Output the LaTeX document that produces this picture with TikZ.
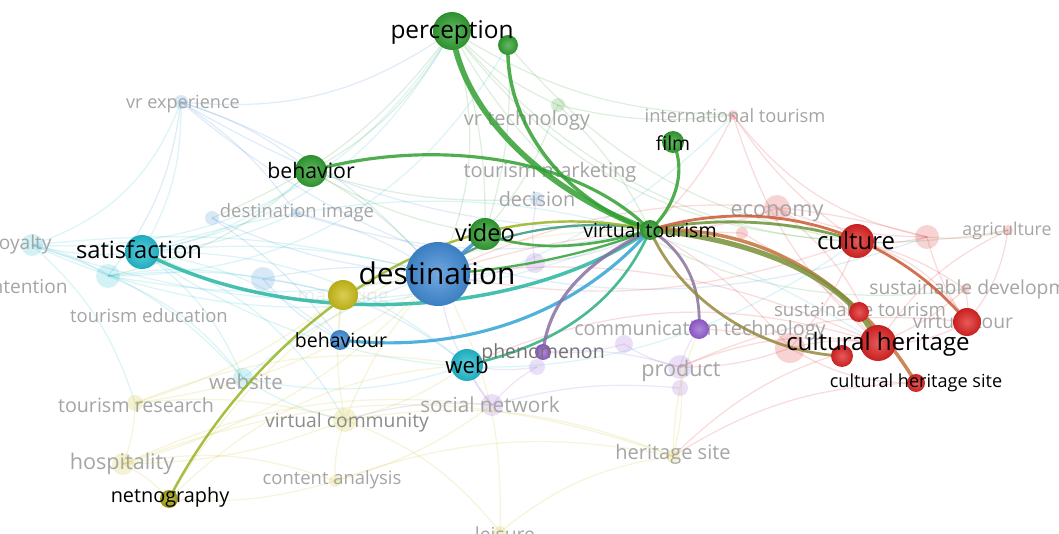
\documentclass[tikz,border=0pt]{standalone}
\usepackage{fontspec}
\setmainfont{Open Sans}
\definecolor{vgreen}{RGB}{50,160,50}
\definecolor{vred}{RGB}{222,35,35}
\definecolor{vblue}{RGB}{65,140,215}
\definecolor{vcyan}{RGB}{35,190,210}
\definecolor{vyellow}{RGB}{205,190,25}
\definecolor{vpurple}{RGB}{150,95,210}
\definecolor{volive}{RGB}{170,165,25}
\definecolor{paletext}{RGB}{165,165,165}
\pgfdeclarelayer{faint}
\pgfdeclarelayer{links}
\pgfsetlayers{faint,links,main}
\tikzset{
  ball/.style={circle, inner sep=0pt, inner color=#1!75!white, outer color=#1!90!black},
  fball/.style={circle, inner sep=0pt, fill=#1, fill opacity=0.2},
  sz/.style={minimum size=#1*0.04cm},
  word/.style={inner sep=0pt, text=black, font=\fontsize{#1pt}{#1pt}\selectfont},
  pale/.style={inner sep=0pt, text=paletext, font=\fontsize{#1pt}{#1pt}\selectfont},
  tie/.style={draw=#1, line cap=round, opacity=0.85},
  thread/.style={draw=#1, opacity=0.16, line width=0.7pt}
}
\begin{document}
\begin{tikzpicture}[x=0.02cm, y=-0.02cm]
\useasboundingbox (0,0) rectangle (1059,534);

\node[ball=vgreen, sz=19] (perception) at (452,31) {};
\node[ball=vgreen, sz=10] (perc2) at (508,45) {};
\node[ball=vgreen, sz=11] (film) at (673,142) {};
\node[ball=vgreen, sz=16] (behavior) at (311,171) {};
\node[ball=vgreen, sz=16] (video) at (485,234) {};
\node[ball=vgreen, sz=10] (vt) at (650,230) {};
\node[ball=vblue, sz=32] (destination) at (438,274) {};
\node[ball=vcyan, sz=17] (satisfaction) at (142,252) {};
\node[ball=vyellow, sz=15] (marketing) at (343,295) {};
\node[ball=vblue, sz=10] (behaviour) at (340,340) {};
\node[ball=vcyan, sz=16] (web) at (467,365) {};
\node[ball=vpurple, sz=8] (phenomenon) at (543,352) {};
\node[ball=vpurple, sz=10] (commtech) at (699,329) {};
\node[ball=vred, sz=17] (culture) at (857,241) {};
\node[ball=vred, sz=18] (heritage) at (878,343) {};
\node[ball=vred, sz=14] (vtour) at (967,322) {};
\node[ball=vred, sz=10] (sustour) at (859,312) {};
\node[ball=vred, sz=11] (redsmall) at (842,356) {};
\node[ball=vred, sz=9] (chsite) at (916,383) {};
\node[ball=volive, sz=9] (netnography) at (169,499) {};

\node[word=17] (t-destination) at (437,273) {destination};
\node[word=13.9] (t-perception) at (452,32) {perception};
\node[word=13.5] (t-satisfaction) at (139,250) {satisfaction};
\node[word=13.4] (t-video) at (485,233) {video};
\node[word=12.1] (t-behavior) at (311,171) {behavior};
\node[word=11.1] (t-vt) at (650,230) {virtual tourism};
\node[word=11] (t-film) at (673,143) {film};
\node[word=11.1] (t-behaviour) at (341,340) {behaviour};
\node[word=12.6] (t-web) at (467,365) {web};
\node[word=11.1, text=black!55] (t-phenomenon) at (543,353) {phenomenon};
\node[word=13.6] (t-culture) at (856,241) {culture};
\node[word=13.7] (t-heritage) at (878,344) {cultural heritage};
\node[word=10.3] (t-chsite) at (916,383) {cultural heritage site};
\node[word=11.3] (t-netnography) at (170,497) {netnography};

\begin{pgfonlayer}{faint}
\fill[white] (0,0) rectangle (1059,534);
\node[fball=vblue, sz=7] (fvrexp) at (181,102) {};
\node[fball=vgreen, sz=7] (fvrtech) at (558,105) {};
\node[fball=vred, sz=5] (finttour) at (733,115) {};
\node[fball=vblue, sz=7] (fdecision) at (537,199) {};
\node[fball=vblue, sz=5] (fdestimg) at (296,213) {};
\node[fball=vblue, sz=7] (fdestimg2) at (212,218) {};
\node[fball=vcyan, sz=11] (floyalty) at (32,245) {};
\node[fball=vcyan, sz=12] (fintention) at (108,276) {};
\node[fball=vblue, sz=12] (fblue) at (263,279) {};
\node[fball=vred, sz=13] (feconomy) at (777,208) {};
\node[fball=vred, sz=6] (fecon2) at (742,233) {};
\node[fball=vred, sz=12] (fagri) at (927,237) {};
\node[fball=vred, sz=5] (fagri2) at (1008,230) {};
\node[fball=vred, sz=5] (fsusdev) at (965,289) {};
\node[fball=vred, sz=15] (fredbig) at (790,348) {};
\node[fball=vpurple, sz=10] (fpurple) at (535,263) {};
\node[fball=vpurple, sz=9] (fpurple2) at (624,344) {};
\node[fball=vpurple, sz=12] (fproduct) at (680,367) {};
\node[fball=vpurple, sz=8] (fproduct2) at (680,388) {};
\node[fball=vpurple, sz=8] (fphen) at (537,367) {};
\node[fball=vpurple, sz=11] (fsocial) at (492,405) {};
\node[fball=vcyan, sz=10] (fwebsite) at (243,378) {};
\node[fball=vyellow, sz=8] (ftres) at (135,403) {};
\node[fball=vyellow, sz=11] (fhosp) at (123,464) {};
\node[fball=vyellow, sz=12] (fvcomm) at (345,420) {};
\node[fball=vyellow, sz=6] (fcontent) at (335,481) {};
\node[fball=vyellow, sz=7] (fherit) at (673,456) {};
\node[fball=vyellow, sz=6] (fleisure) at (500,532) {};

\foreach \a/\b/\c/\d in {floyalty/fintention/vcyan/10, floyalty/satisfaction/vcyan/-10,
  floyalty/fvrexp/vcyan/-25, floyalty/perception/vcyan/-30, floyalty/vt/vcyan/-20,
  floyalty/destination/vcyan/10, floyalty/finttour/vcyan/-35, floyalty/fwebsite/vcyan/15,
  floyalty/ftres/vcyan/15, fintention/fblue/vcyan/10, fintention/destination/vcyan/-10,
  fintention/fwebsite/vcyan/15, fintention/perc2/vcyan/-30, fintention/marketing/vcyan/10,
  satisfaction/fvrexp/vcyan/-15, satisfaction/fdestimg/vcyan/-10, satisfaction/culture/vcyan/-35,
  satisfaction/destination/vcyan/10, satisfaction/fwebsite/vcyan/15, satisfaction/perception/vcyan/-25,
  satisfaction/behavior/vcyan/-15, satisfaction/web/vcyan/20, satisfaction/heritage/vcyan/25,
  satisfaction/behaviour/vcyan/15, satisfaction/fvcomm/vcyan/20,
  fvrexp/behavior/vblue/10, fvrexp/destination/vblue/15, fvrexp/perception/vblue/-20,
  fvrexp/fdestimg/vblue/10, fvrexp/fagri/vblue/-30, fvrexp/vt/vblue/-15, fvrexp/fintention/vblue/15,
  fdestimg2/destination/vblue/-10, fdestimg/destination/vblue/10, fdestimg2/behaviour/vblue/10,
  fdestimg/vt/vblue/-15, fblue/destination/vblue/10, fblue/behaviour/vblue/-10, fblue/web/vblue/15,
  behavior/destination/vgreen/10, behavior/perception/vgreen/-15, behavior/fdecision/vgreen/-10,
  behavior/video/vgreen/-10, behavior/fintention/vgreen/15,
  perception/destination/vgreen/20, perception/video/vgreen/10, perception/culture/vgreen/-25,
  perception/finttour/vgreen/-15, perception/fvrtech/vgreen/-10, perc2/culture/vgreen/-20,
  perception/fagri2/vgreen/-30, perception/fsusdev/vgreen/-35, perception/fdestimg2/vgreen/15,
  fvrtech/vt/vgreen/10, fvrtech/destination/vgreen/15, perc2/video/vgreen/10,
  fvrtech/finttour/vgreen/-10, finttour/culture/vred/-10, finttour/vt/vred/10,
  finttour/heritage/vred/-15, finttour/fagri/vred/-20, feconomy/culture/vred/-10,
  feconomy/heritage/vred/15, feconomy/vt/vred/10, feconomy/fagri/vred/-10,
  fecon2/heritage/vred/10, fecon2/destination/vred/-10, fagri/culture/vred/10,
  fagri/vtour/vred/-10, fagri2/fagri/vred/10, fagri2/heritage/vred/-15, fsusdev/heritage/vred/10,
  fsusdev/culture/vred/-10, fsusdev/vtour/vred/10, fredbig/heritage/vred/10,
  fredbig/commtech/vred/-10, fredbig/fproduct/vred/10, fredbig/vt/vred/-10,
  vtour/heritage/vred/15, chsite/fredbig/vred/15, heritage/fproduct/vred/-15,
  heritage/destination/vred/-15, heritage/fherit/vred/-15, culture/destination/vred/15,
  fagri/destination/vred/-20, vtour/fproduct/vred/-15, fagri2/vtour/vred/15, chsite/fherit/vred/-15,
  culture/fredbig/vred/10, heritage/web/vred/-20, vtour/culture/vred/-20,
  fpurple/destination/vpurple/10, fpurple/vt/vpurple/-10,
  fpurple/fdecision/vpurple/10, fpurple2/phenomenon/vpurple/10, fpurple2/fproduct/vpurple/-10,
  fproduct/commtech/vpurple/10, fproduct/phenomenon/vpurple/-10, fproduct2/fsocial/vpurple/-10,
  fphen/web/vpurple/10, fphen/fsocial/vpurple/-10, fsocial/web/vpurple/10,
  fsocial/fvcomm/vpurple/-10, fsocial/destination/vpurple/15, fwebsite/destination/vcyan/10,
  fwebsite/fvcomm/vcyan/-10, fwebsite/web/vcyan/-15, ftres/fhosp/vyellow/10,
  ftres/marketing/vyellow/-10, ftres/fvcomm/vyellow/10, ftres/destination/vyellow/-15,
  fhosp/fvcomm/vyellow/-10, fhosp/netnography/vyellow/10, fhosp/fcontent/vyellow/15,
  fhosp/destination/vyellow/-15, fhosp/fherit/vyellow/20, fvcomm/marketing/vyellow/10,
  fvcomm/fcontent/vyellow/-10, fvcomm/destination/vyellow/10, fvcomm/fherit/vyellow/15,
  fvcomm/web/vyellow/-10, fcontent/netnography/vyellow/10, fcontent/fherit/vyellow/15,
  fherit/fproduct/vyellow/-10, fherit/commtech/vyellow/10, fleisure/fvcomm/vyellow/-15,
  fleisure/fherit/vyellow/15, fleisure/destination/vyellow/-15, marketing/destination/vyellow/10,
  marketing/behaviour/vyellow/-10, netnography/web/vyellow/20, netnography/vt/vyellow/30,
  fhosp/fsocial/vyellow/15, ftres/web/vyellow/15, fcontent/fsocial/vyellow/-10}
  \draw[thread=\c] (\a.center) to[bend left=\d] (\b.center);

\node[pale=10.3] (t-vrexp) at (183,104) {vr experience};
\node[pale=11.4] (t-vrtech) at (527,120) {vr technology};
\node[pale=10.4] (t-inttour) at (735,116) {international tourism};
\node[pale=11.4] (t-tmark) at (550,172) {tourism marketing};
\node[pale=11.3] (t-decision) at (537,199) {decision};
\node[pale=10.5] (t-destimg) at (297,213) {destination image};
\node[pale=12.3] (t-economy) at (777,213) {economy};
\node[pale=10.1] (t-agri) at (1007,231) {agriculture};
\node[pale=10.9, anchor=east] (t-loyalty) at (52,245) {loyalty};
\node[pale=10.9, anchor=east] (t-intention) at (68,287) {intention};
\node[pale=10.5] (t-tedu) at (149,316) {tourism education};
\node[pale=11, anchor=west] (t-susdev) at (869,289) {sustainable development};
\node[pale=10.6] (t-sustour) at (860,310) {sustainable tourism};
\node[pale=11] (t-vtour) at (963,321) {virtual tour};
\node[pale=11.3] (t-commtech) at (700,330) {communication technology};
\node[pale=12.3] (t-product) at (681,371) {product};
\node[pale=11.7] (t-website) at (246,382) {website};
\node[pale=11.2] (t-tres) at (136,405) {tourism research};
\node[pale=11, text=black!45] (t-vcomm) at (347,422) {virtual community};
\node[pale=11.8] (t-social) at (490,405) {social network};
\node[pale=12.3] (t-hosp) at (122,464) {hospitality};
\node[pale=10.5] (t-content) at (332,480) {content analysis};
\node[pale=11.4] (t-herit) at (673,454) {heritage site};
\node[pale=11, anchor=north] (t-leisure) at (505,526) {leisure};
\node[pale=11, text opacity=0.2] (t-marketing) at (343,297) {marketing};
\end{pgfonlayer}

\begin{pgfonlayer}{links}
\draw[tie=vgreen, line width=3.2pt] (perception.center) .. controls (462,110) and (540,190) .. (vt.center);
\draw[tie=vgreen, line width=2pt] (perc2.center) .. controls (505,120) and (560,200) .. (vt.center);
\draw[tie=vgreen, line width=1.8pt] (film.center) .. controls (688,175) and (672,210) .. (vt.center);
\draw[tie=vgreen, line width=1.8pt] (behavior.center) .. controls (420,140) and (570,150) .. (vt.center);
\draw[tie=vgreen, line width=1.5pt] (video.center) .. controls (540,255) and (600,245) .. (vt.center);
\draw[tie=vgreen!55!vblue, line width=1.3pt] (destination.center) .. controls (470,235) and (580,215) .. (vt.center);
\draw[tie=vgreen, line width=1.3pt] (destination.center) .. controls (520,270) and (600,250) .. (vt.center);
\draw[tie=vblue, line width=2pt] (video.center) -- (destination.center);
\draw[tie=vyellow!65!vgreen, line width=1.4pt] (netnography.center) .. controls (240,360) and (420,180) .. (vt.center);
\draw[tie=vcyan!70!vgreen, line width=2pt] (satisfaction.center) .. controls (290,330) and (520,320) .. (vt.center);
\draw[tie=vblue!50!vcyan, line width=1.8pt] (behaviour.center) .. controls (470,355) and (580,310) .. (vt.center);
\draw[tie=vcyan!50!vgreen, line width=1.5pt] (web.center) .. controls (560,345) and (620,300) .. (vt.center);
\draw[tie=vpurple!45!gray, line width=1.8pt] (phenomenon.center) .. controls (550,290) and (600,255) .. (vt.center);
\draw[tie=vpurple!35!gray, line width=1.6pt] (commtech.center) .. controls (702,275) and (675,245) .. (vt.center);
\draw[tie=brown!70!vgreen, line width=1.6pt] (vt.center) .. controls (680,300) and (760,352) .. (redsmall.center);
\draw[tie=vgreen!60!brown, line width=1.6pt] (vt.center) .. controls (720,215) and (800,222) .. (culture.center);
\draw[tie=brown!60!vred, line width=1.6pt] (vt.center) .. controls (780,190) and (900,240) .. (vtour.center);
\draw[tie=brown!85!vred, line width=2pt] (vt.center) .. controls (770,225) and (860,290) .. (chsite.center);
\draw[tie=vgreen!50!brown, line width=3pt] (vt.center) .. controls (760,240) and (850,280) .. (heritage.center);
\end{pgfonlayer}
\end{tikzpicture}
\end{document}
